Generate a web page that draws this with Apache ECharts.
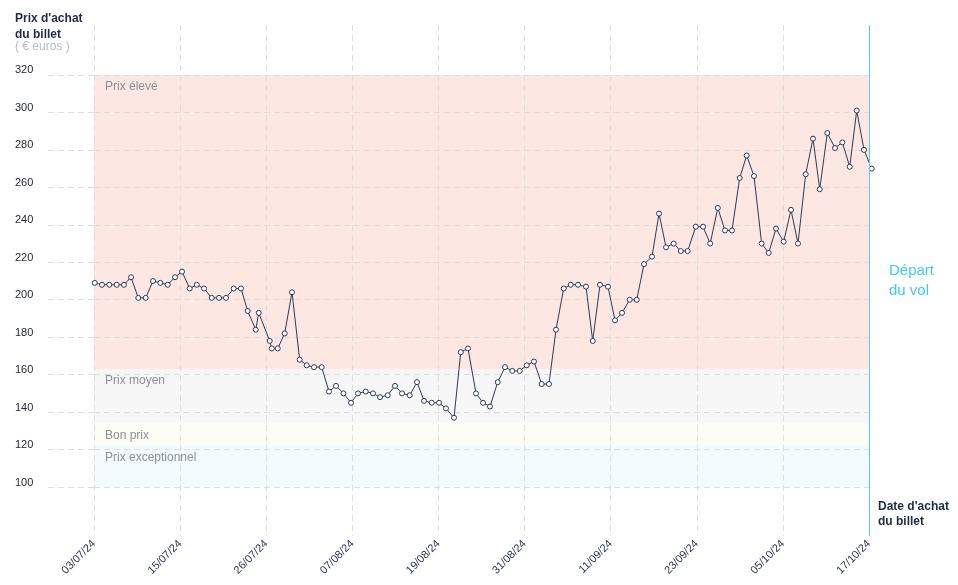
<!DOCTYPE html>
<html><head><meta charset="utf-8">
<script src="https://cdn.jsdelivr.net/npm/echarts@6/dist/echarts.min.js"></script>
<style>html,body{margin:0;padding:0;background:#fff}#c{width:958px;height:585px}</style>
</head><body><div id="c"></div>
<script>
// x tick labels (10 evenly spaced ticks from 03/07/24 to 17/10/24)
const tickLabels = ["03/07/24","15/07/24","26/07/24","07/08/24","19/08/24","31/08/24","11/09/24","23/09/24","05/10/24","17/10/24"];
const axisDays = 106; // 03/07/24 -> 17/10/24
// purchase moments, in days after 03/07/24
const purchaseDay = [0.10,1.09,2.09,3.10,4.10,5.06,6.06,7.07,8.07,9.07,10.08,11.08,12.04,13.09,14.05,15.05,16.10,17.10,18.05,19.11,
  20.11,21.02,22.12,22.53,24.03,24.31,25.13,26.08,27.08,28.13,29.09,30.09,31.14,32.14,33.10,34.12,35.15,36.11,37.16,38.16,
  39.12,40.17,41.17,42.13,43.18,44.18,45.14,46.19,47.19,48.14,49.24,50.16,51.15,52.25,53.21,54.16,55.22,56.21,57.21,58.23,
  59.18,60.18,61.23,62.23,63.19,64.24,65.20,66.20,67.29,68.21,69.21,70.30,71.26,72.22,73.27,74.23,75.23,76.32,77.28,78.24,
  79.29,80.25,81.20,82.30,83.30,84.28,85.32,86.30,87.26,88.31,89.27,90.27,91.32,92.28,93.28,94.33,95.33,96.29,97.34,98.34,
  99.26,100.30,101.35,102.35,103.36,104.32,105.32,106.37];
// ticket price (euros)
const price = [209,208,208,208,208,212,201,201,210,209,208,212,215,206,208,206,201,201,201,206,
  206,194,184,193,178,174,174,182,204,168,165,164,164,151,154,150,145,150,151,150,
  148,149,154,150,149,156,146,145,145,142,137,172,174,150,145,143,156,164,162,162,
  165,167,155,155,184,206,208,208,207,178,208,207,189,193,200,200,219,223,246,228,
  230,226,226,239,239,230,249,237,237,265,277,266,230,225,238,231,248,230,267,286,
  259,289,281,284,271,301,280,270];
const yTicks = [100,120,140,160,180,200,220,240,260,280,300,320];
const bandNames = ["Prix élevé","Prix moyen","Bon prix","Prix exceptionnel"];
const bandLow = [163,134,122,100];
const bandHigh = [320,163,134,122];
const bandColors = ["#fde7e2","#f7f7f8","#fcfdf3","#f2fbfd"];
const departureDay = 106;

const FONT = "'Liberation Sans', Arial, sans-serif";
const gridColor = "#dedede";
const chart = echarts.init(document.getElementById('c'), null, {renderer:'canvas'});
chart.setOption({
  animation: false,
  textStyle: {fontFamily: FONT},
  grid: {left: 94, right: 89, top: 25, bottom: 49, containLabel: false},
  xAxis: {
    type: 'value', min: 0, max: axisDays, interval: axisDays / 9, z: 2,
    axisLine: {show: false}, axisTick: {show: false},
    splitLine: {show: true, lineStyle: {type: [6, 4], color: gridColor}},
    axisLabel: {
      rotate: 45, margin: 6, fontSize: 11, color: '#2b3451', fontFamily: FONT,
      formatter: v => tickLabels[Math.round(v * 9 / axisDays)] || ''
    }
  },
  yAxis: {
    type: 'value', min: 73.87, max: 346.67, z: 2,
    axisLine: {show: false},
    axisTick: {show: true, customValues: yTicks, length: 49, lineStyle: {type: [6, 4], color: gridColor}},
    axisLabel: {customValues: yTicks, margin: 79, align: 'left', verticalAlign: 'bottom', padding: [0, 0, -1, 0], fontSize: 11, color: '#1e2232', fontFamily: FONT},
    splitLine: {show: true, lineStyle: {type: [6, 4], color: gridColor}}
  },
  graphic: [
    {type: 'text', left: 15, top: 11, style: {text: "Prix d'achat\ndu billet", font: "bold 12px " + FONT, fill: '#1f2b45', lineHeight: 16}},
    {type: 'text', left: 15, top: 41, style: {text: "( € euros )", font: "12px " + FONT, fill: '#b8bcc4'}},
    {type: 'text', left: 878, top: 499, style: {text: "Date d'achat\ndu billet", font: "bold 12px " + FONT, fill: '#1f2b45', lineHeight: 15}},
    {type: 'text', left: 889, top: 261, style: {text: "Départ\ndu vol", font: "15px " + FONT, fill: '#3ec9f0', lineHeight: 20}}
  ],
  series: [
    {
      type: 'line', z: 1, data: [], silent: true,
      markArea: {
        silent: true,
        data: bandNames.map((n, i) => [
          {name: n, xAxis: 0, yAxis: bandLow[i], itemStyle: {color: bandColors[i]}},
          {xAxis: departureDay, yAxis: bandHigh[i]}
        ]),
        label: {show: true, position: 'insideTopLeft', offset: [6, 1], fontSize: 12, color: '#8b8f99', fontFamily: FONT}
      }
    },
    {
      type: 'line', z: 3, clip: false,
      data: purchaseDay.map((d, i) => [d, price[i]]),
      symbol: 'circle', symbolSize: 5, showAllSymbol: true,
      lineStyle: {color: '#2e3a55', width: 1},
      itemStyle: {color: '#ffffff', borderColor: '#2e3a55', borderWidth: 1},
      markLine: {
        silent: true, symbol: 'none', label: {show: false},
        lineStyle: {color: '#5ccbeb', width: 1, type: 'solid'},
        data: [{xAxis: departureDay}]
      }
    }
  ]
});
</script></body></html>
